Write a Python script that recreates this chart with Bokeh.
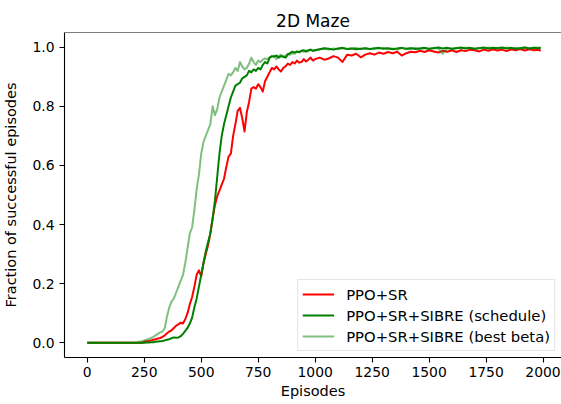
from bokeh.plotting import figure
from bokeh.models import Range1d, FixedTicker, Span
from bokeh.embed import file_html
from bokeh.resources import INLINE

title_text = "2D Maze"
x_label = "Episodes"
y_label = "Fraction of successful episodes"
x_ticks = [0, 250, 500, 750, 1000, 1250, 1500, 1750, 2000]
y_ticks = [0.0, 0.2, 0.4, 0.6, 0.8, 1.0]
y_tick_labels = ["0.0", "0.2", "0.4", "0.6", "0.8", "1.0"]

series_names = ["PPO+SR", "PPO+SR+SIBRE (schedule)", "PPO+SR+SIBRE (best beta)"]

episodes = list(range(0, 1000, 10)) + list(range(1000, 2000, 20)) + [1990]

ppo_sr = [
    0, 0, 0, 0, 0, 0, 0, 0, 0, 0,
    0, 0, 0, 0, 0, 0, 0, 0, 0, 0,
    0, 0, 0, 0, 0, 0.003, 0.005, 0.006, 0.008, 0.010,
    0.012, 0.014, 0.016, 0.020, 0.025, 0.032, 0.038, 0.042, 0.050, 0.058,
    0.062, 0.068, 0.065, 0.080, 0.100, 0.130, 0.155, 0.190, 0.230, 0.245,
    0.225, 0.270, 0.300, 0.330, 0.370, 0.420, 0.465, 0.495, 0.515, 0.535,
    0.555, 0.595, 0.630, 0.640, 0.700, 0.740, 0.785, 0.795, 0.760, 0.715,
    0.780, 0.815, 0.860, 0.865, 0.860, 0.875, 0.865, 0.850, 0.885, 0.900,
    0.915, 0.930, 0.925, 0.935, 0.925, 0.918, 0.930, 0.935, 0.945, 0.940,
    0.950, 0.945, 0.955, 0.948, 0.950, 0.960, 0.952, 0.958, 0.965, 0.955,
    0.960, 0.965, 0.958, 0.962, 0.970, 0.965, 0.950, 0.975, 0.972, 0.978,
    0.966, 0.975, 0.980, 0.975, 0.982, 0.978, 0.984, 0.980, 0.985, 0.972,
    0.980, 0.985, 0.983, 0.988, 0.984, 0.990, 0.986, 0.982, 0.988, 0.985,
    0.990, 0.984, 0.990, 0.987, 0.992, 0.990, 0.986, 0.992, 0.988, 0.993,
    0.989, 0.992, 0.987, 0.993, 0.990, 0.994, 0.989, 0.993, 0.990, 0.992,
    0.988,
]

sibre_schedule = [
    0, 0, 0, 0, 0, 0, 0, 0, 0, 0,
    0, 0, 0, 0, 0, 0, 0, 0, 0, 0,
    0, 0, 0, 0, 0, 0, 0.001, 0.001, 0.002, 0.002,
    0.003, 0.004, 0.005, 0.006, 0.008, 0.010, 0.012, 0.015, 0.018, 0.017,
    0.018, 0.022, 0.030, 0.040, 0.050, 0.065, 0.085, 0.120, 0.150, 0.190,
    0.230, 0.270, 0.310, 0.340, 0.370, 0.420, 0.480, 0.560, 0.640, 0.700,
    0.740, 0.770, 0.800, 0.830, 0.850, 0.870, 0.875, 0.880, 0.895, 0.900,
    0.905, 0.920, 0.915, 0.925, 0.920, 0.930, 0.925, 0.940, 0.950, 0.945,
    0.965, 0.970, 0.968, 0.972, 0.965, 0.970, 0.968, 0.965, 0.975, 0.980,
    0.985, 0.982, 0.986, 0.984, 0.988, 0.990, 0.985, 0.990, 0.992, 0.988,
    0.990, 0.993, 0.997, 0.995, 0.992, 0.996, 0.998, 0.994, 0.996, 0.993,
    0.995, 0.997, 0.994, 0.996, 0.998, 0.995, 0.997, 0.993, 0.996, 0.998,
    0.995, 0.997, 0.994, 0.996, 0.998, 0.995, 0.997, 0.999, 0.996, 0.998,
    0.995, 0.997, 0.999, 0.996, 0.998, 0.995, 0.997, 0.999, 0.996, 0.998,
    0.997, 0.999, 0.996, 0.998, 0.995, 0.997, 0.999, 0.996, 0.998, 0.997,
    0.998,
]

sibre_best_beta = [
    0, 0, 0, 0, 0, 0, 0, 0, 0, 0,
    0, 0, 0, 0, 0, 0, 0, 0, 0, 0,
    0, 0, 0.001, 0.003, 0.005, 0.008, 0.010, 0.013, 0.016, 0.020,
    0.025, 0.030, 0.035, 0.038, 0.050, 0.090, 0.120, 0.140, 0.150, 0.170,
    0.190, 0.210, 0.230, 0.270, 0.320, 0.370, 0.390, 0.450, 0.520, 0.570,
    0.640, 0.680, 0.700, 0.720, 0.740, 0.800, 0.770, 0.790, 0.830, 0.850,
    0.870, 0.890, 0.910, 0.905, 0.915, 0.930, 0.920, 0.950, 0.935, 0.925,
    0.930, 0.945, 0.965, 0.950, 0.940, 0.955, 0.950, 0.958, 0.962, 0.960,
    0.965, 0.968, 0.972, 0.960, 0.970, 0.975, 0.968, 0.972, 0.978, 0.975,
    0.980, 0.978, 0.985, 0.982, 0.988, 0.985, 0.990, 0.986, 0.992, 0.988,
    0.990, 0.993, 0.995, 0.992, 0.996, 0.993, 0.997, 0.994, 0.996, 0.998,
    0.994, 0.996, 0.993, 0.997, 0.995, 0.998, 0.994, 0.996, 0.992, 0.997,
    0.994, 0.996, 0.998, 0.995, 0.997, 0.994, 0.998, 0.996, 0.978, 0.997,
    0.995, 0.998, 0.996, 0.999, 0.997, 0.995, 0.998, 0.996, 0.999, 0.997,
    0.998, 0.996, 0.999, 0.997, 0.998, 0.996, 0.999, 0.997, 0.998, 0.999,
    0.998,
]

FONT = "DejaVu Sans"

p = figure(
    width=561, height=404,
    x_range=Range1d(-100, 2081), y_range=Range1d(-0.05, 1.05),
    output_backend="svg", toolbar_location=None,
    min_border_left=63, min_border_right=0, min_border_top=32, min_border_bottom=47,
    background_fill_color="white", border_fill_color="white",
)
p.outline_line_color = None
p.xgrid.visible = False
p.ygrid.visible = False

p.title.text = title_text
p.title.align = "center"
p.title.text_font = FONT
p.title.text_font_size = "17px"
p.title.text_font_style = "normal"
p.title.text_color = "black"
p.title.standoff = 4

for ax in (p.xaxis[0], p.yaxis[0]):
    ax.axis_line_color = "black"
    ax.axis_line_width = 1.1
    ax.major_tick_line_color = "black"
    ax.major_tick_line_width = 1.1
    ax.major_tick_out = 5
    ax.major_tick_in = 0
    ax.minor_tick_line_color = None
    ax.major_label_text_font = FONT
    ax.major_label_text_font_size = "13.9px"
    ax.major_label_text_color = "black"
    ax.axis_label_text_font = FONT
    ax.axis_label_text_font_size = "14.5px"
    ax.axis_label_text_font_style = "normal"
    ax.axis_label_text_color = "black"

p.xaxis[0].axis_label = x_label
p.xaxis[0].major_label_standoff = 4
p.xaxis[0].axis_label_standoff = 3
p.xaxis[0].ticker = FixedTicker(ticks=x_ticks)
p.yaxis[0].axis_label = y_label
p.yaxis[0].major_label_standoff = 5
p.yaxis[0].axis_label_standoff = 10
p.yaxis[0].ticker = FixedTicker(ticks=y_ticks)
p.yaxis[0].major_label_overrides = {t: l for t, l in zip(y_ticks, y_tick_labels)}

top_spine = Span(location=1.05, dimension="width", line_color="black", line_width=1.1)
p.add_layout(top_spine)

p.line(episodes, ppo_sr, line_color="#ff0000", line_width=2, line_join="round",
       legend_label=series_names[0])
p.line(episodes, sibre_schedule, line_color="#008000", line_width=2, line_join="round",
       legend_label=series_names[1])
p.line(episodes, sibre_best_beta, line_color="#008000", line_alpha=0.5, line_width=2,
       line_join="round", legend_label=series_names[2])

lg = p.legend[0]
lg.location = "bottom_right"
lg.margin = 6
lg.padding = 4
lg.spacing = 1
lg.glyph_width = 32
lg.glyph_height = 20
lg.label_height = 20
lg.label_standoff = 12
lg.label_text_font = FONT
lg.label_text_font_size = "14.8px"
lg.label_text_color = "black"
lg.border_line_color = "#cccccc"
lg.border_line_width = 1
lg.background_fill_color = "white"
lg.background_fill_alpha = 0.8

open("out.html", "w").write(file_html(p, INLINE))
